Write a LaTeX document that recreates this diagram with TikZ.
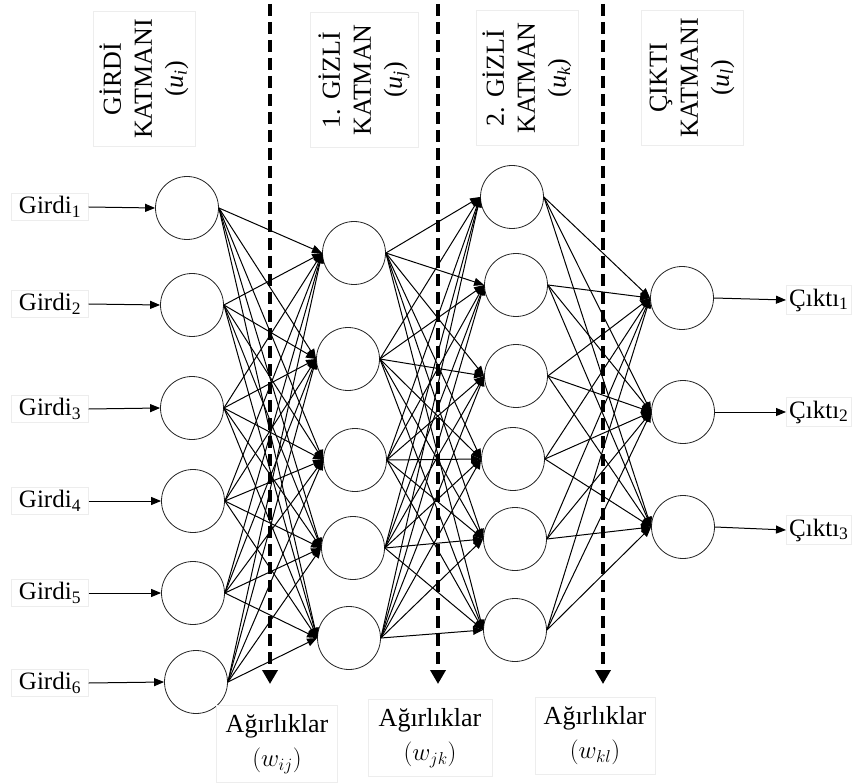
\documentclass[tikz,border=0pt]{standalone}
\usepackage{fontspec}
\setmainfont{Liberation Serif}
\usetikzlibrary{arrows.meta, positioning}

\newcommand{\unit}[1]{(\textit{u}\textsubscript{\textit{#1}})}

\begin{document}
\begin{tikzpicture}[x=1pt, y=-1pt,
    neuron/.style={circle, draw=black!85, line width=0.8pt, minimum size=63pt, inner sep=0pt},
    lbl/.style={draw=black!7, font=\fontsize{25}{30}\selectfont, inner sep=3pt},
    layer/.style={draw=black!7, rotate=90, align=center, font=\fontsize{26}{31}\selectfont, minimum width=135pt, minimum height=102pt, inner sep=0pt},
    wbox/.style={draw=black!7, align=center, font=\fontsize{26}{34}\selectfont, minimum width=121pt, minimum height=77pt, inner sep=0pt},
    wire/.style={line width=1pt, -{Triangle[length=10pt, width=8pt]}},
    weight/.style={line width=4pt, dash pattern=on 12pt off 6pt, -{Triangle[length=14pt, width=15pt]}}]
    \useasboundingbox (0,0) rectangle (856,783);
    % katmanlar
    \foreach \n/\x/\y in {1/187/208, 2/192/305, 3/192/408, 4/193/501, 5/193/593, 6/196/682}
        \node[neuron] (i\n) at (\x,\y) {};
    \foreach \n/\x/\y in {1/354/253, 2/348/359, 3/355/460, 4/353/548, 5/349/638}
        \node[neuron] (j\n) at (\x,\y) {};
    \foreach \n/\x/\y in {1/512/197, 2/516/285, 3/516/376, 4/513/459, 5/515/539, 6/515/630}
        \node[neuron] (k\n) at (\x,\y) {};
    \foreach \n/\x/\y in {1/682/298, 2/683/412, 3/683/527}
        \node[neuron] (l\n) at (\x,\y) {};
    % girdiler ve ciktilar
    \foreach \n/\y in {1/207, 2/304, 3/409, 4/501, 5/593, 6/683} {
        \node[lbl, minimum width=77pt] (g\n) at (50,\y) {Girdi\textsubscript{\n}};
        \draw[wire] (g\n.east) -- (i\n.west);
    }
    \foreach \n/\y in {1/300, 2/412, 3/530} {
        \node[lbl, anchor=west] (c\n) at (786,\y) {Çıktı\textsubscript{\n}};
        \draw[wire] (l\n.east) -- (c\n.west);
    }
    % baglantilar
    \foreach \a in {1,...,6}
        \foreach \b in {1,...,5}
            \draw[wire] (i\a.east) -- (j\b.west);
    \foreach \a in {1,...,5}
        \foreach \b in {1,...,6}
            \draw[wire] (j\a.east) -- (k\b.west);
    \foreach \a in {1,...,6}
        \foreach \b in {1,...,3}
            \draw[wire] (k\a.east) -- (l\b.west);
    % basliklar
    \node[layer] (ti) at (144,79) {GİRDİ\\KATMANI\\\unit{i}};
    \node[layer, minimum height=108pt] (tj) at (364,80) {1. GİZLİ\\KATMAN\\\unit{j}};
    \node[layer] (tk) at (527,78) {2. GİZLİ\\KATMAN\\\unit{k}};
    \node[layer] (tl) at (692,78) {ÇIKTI\\KATMANI\\\unit{l}};
    % agirliklar
    \node[wbox] (w1) at (277,744) {Ağırlıklar\\$(w_{ij})$};
    \node[wbox, minimum width=124pt] (w2) at (430,738) {Ağırlıklar\\$(w_{jk})$};
    \node[wbox, minimum width=120pt] (w3) at (595,736) {Ağırlıklar\\$(w_{kl})$};
    \foreach \n/\x in {1/270, 2/438, 3/603} {
        \coordinate (s\n) at (\x,4);
        \coordinate (e\n) at (\x,684);
        \draw[weight] (s\n) -- (e\n);
    }
\end{tikzpicture}
\end{document}
